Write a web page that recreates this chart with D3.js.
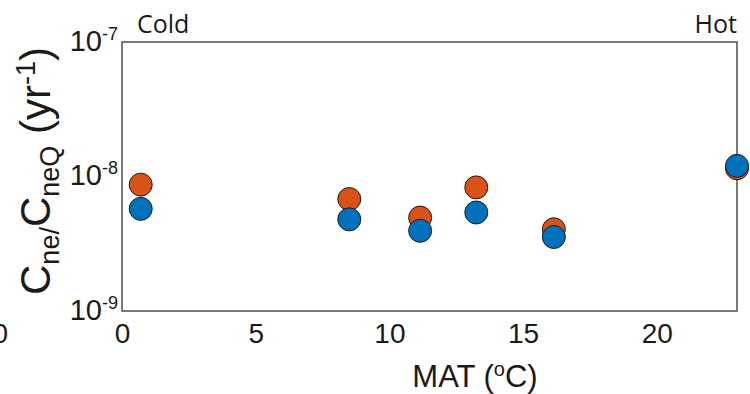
<!DOCTYPE html>
<html>
<head>
<meta charset="utf-8">
<script src="https://cdn.jsdelivr.net/npm/d3@7"></script>
<style>
  body { margin: 0; background: #fff; }
  svg { display: block; }
  .axis text { font-family: "Liberation Sans", Arial, sans-serif; fill: #1a1a1a; }
</style>
</head>
<body>
<svg id="chart"></svg>
<script>
// Data
const mat = [0.7, 8.5, 11.15, 13.25, 16.15, 23.0];
const seriesOrange = [8.7e-9, 6.8e-9, 4.95e-9, 8.3e-9, 4.05e-9, 1.15e-8];
const seriesBlue = [5.75e-9, 4.8e-9, 3.95e-9, 5.4e-9, 3.55e-9, 1.2e-8];
const xTicks = [0, 5, 10, 15, 20];
const yTicks = [1e-9, 1e-8, 1e-7];

const config = {
  containerWidth: 750,
  containerHeight: 394,
  margin: { top: 42, bottom: 83, right: 13, left: 122 }
};

const width = config.containerWidth - config.margin.left - config.margin.right;
const height = config.containerHeight - config.margin.top - config.margin.bottom;

const svg = d3.select('#chart')
  .attr('width', config.containerWidth)
  .attr('height', config.containerHeight);

const chart = svg.append('g')
  .attr('transform', `translate(${config.margin.left},${config.margin.top})`);

const xScale = d3.scaleLinear().domain([0, 23]).range([0, width]);
const yScale = d3.scaleLog().domain([1e-9, 1e-7]).range([height, 0]);

// x axis
const xAxisGroup = chart.append('g')
  .attr('class', 'axis x-axis')
  .attr('transform', `translate(0,${height})`)
  .call(d3.axisBottom(xScale).tickValues(xTicks).tickSize(0).tickPadding(0).tickFormat(d3.format('d')));
xAxisGroup.select('.domain').remove();
xAxisGroup.selectAll('text')
  .attr('dy', null)
  .attr('y', 32)
  .style('font-size', '28px');

// y axis, labels as 10^n
const yAxisGroup = chart.append('g')
  .attr('class', 'axis y-axis')
  .call(d3.axisLeft(yScale).tickValues(yTicks).tickSize(0).tickPadding(0).tickFormat(''));
yAxisGroup.select('.domain').remove();
yAxisGroup.selectAll('.tick text')
  .attr('x', -4)
  .attr('dy', null)
  .attr('y', 8)
  .style('text-anchor', 'end')
  .each(function(d) {
    const t = d3.select(this);
    t.append('tspan').style('font-size', '29px').text('10');
    t.append('tspan').style('font-size', '18px').attr('dy', -11).text(Math.round(Math.log10(d)));
  });

// frame
chart.append('rect')
  .attr('x', 0).attr('y', 0)
  .attr('width', width).attr('height', height)
  .attr('fill', 'none')
  .attr('stroke', '#4d4d4d')
  .attr('stroke-width', 1.5);

// points: orange series first, blue on top
const seriesList = [
  { values: seriesOrange, color: '#D95319' },
  { values: seriesBlue, color: '#0072BD' }
];
seriesList.forEach(s => {
  chart.append('g').selectAll('circle')
    .data(mat.map((m, i) => ({ x: m, y: s.values[i] })))
    .join('circle')
    .attr('cx', d => xScale(d.x))
    .attr('cy', d => yScale(d.y))
    .attr('r', 11.5)
    .attr('fill', s.color)
    .attr('stroke', '#1a1a1a')
    .attr('stroke-width', 1);
});

// Cold / Hot annotations
svg.append('text')
  .attr('x', 137).attr('y', 33)
  .style('font-family', '"Open Sans", sans-serif')
  .style('font-size', '25px')
  .style('fill', '#1a1a1a')
  .text('Cold');
svg.append('text')
  .attr('x', 737).attr('y', 33)
  .style('text-anchor', 'end')
  .style('font-family', '"Open Sans", sans-serif')
  .style('font-size', '25px')
  .style('fill', '#1a1a1a')
  .text('Hot');

// x label
const xLabel = svg.append('text')
  .attr('x', 475).attr('y', 387)
  .style('text-anchor', 'middle')
  .style('font-family', '"Liberation Sans", Arial, sans-serif')
  .style('font-size', '31px')
  .style('fill', '#1a1a1a');
xLabel.append('tspan').text('MAT (');
xLabel.append('tspan').style('font-size', '20px').attr('dy', -11).text('o');
xLabel.append('tspan').attr('dy', 11).text('C)');

// y label
const yLabel = svg.append('text')
  .attr('transform', 'rotate(-90)')
  .attr('x', -171).attr('y', 50)
  .style('text-anchor', 'middle')
  .style('font-family', '"Liberation Sans", Arial, sans-serif')
  .style('font-size', '42px')
  .style('fill', '#1a1a1a');
yLabel.append('tspan').text('C');
yLabel.append('tspan').style('font-size', '27px').attr('dy', 9).text('ne/');
yLabel.append('tspan').attr('dy', -9).text('C');
yLabel.append('tspan').style('font-size', '27px').attr('dy', 9).text('neQ');
yLabel.append('tspan').attr('dy', -9).text(' (yr');
yLabel.append('tspan').style('font-size', '27px').attr('dy', -15).text('-1');
yLabel.append('tspan').attr('dy', 15).text(')');

// clipped tick label of neighbouring panel at the left edge
svg.append('text')
  .attr('x', 8).attr('y', 343)
  .style('text-anchor', 'end')
  .style('font-family', '"Liberation Sans", Arial, sans-serif')
  .style('font-size', '28px')
  .style('fill', '#1a1a1a')
  .text('0');
</script>
</body>
</html>
